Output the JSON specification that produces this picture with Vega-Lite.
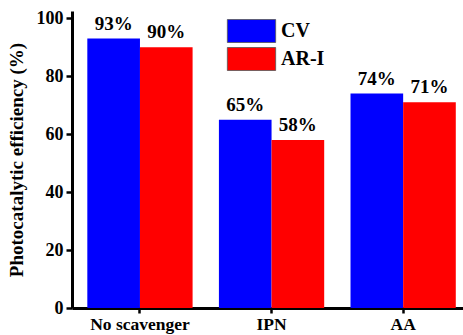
{
  "$schema": "https://vega.github.io/schema/vega-lite/v6.json",
  "width": 391,
  "height": 297,
  "autosize": {"type": "none"},
  "padding": {"left": 72, "top": 11, "right": 0, "bottom": 27},
  "background": "white",
  "config": {
    "view": {"stroke": null},
    "font": "Liberation Serif",
    "axis": {"grid": false}
  },
  "data": {
    "values": [
      {"scavenger": "No scavenger", "sample": "CV", "value": 93, "label": "93%"},
      {"scavenger": "No scavenger", "sample": "AR-I", "value": 90, "label": "90%"},
      {"scavenger": "IPN", "sample": "CV", "value": 65, "label": "65%"},
      {"scavenger": "IPN", "sample": "AR-I", "value": 58, "label": "58%"},
      {"scavenger": "AA", "sample": "CV", "value": 74, "label": "74%"},
      {"scavenger": "AA", "sample": "AR-I", "value": 71, "label": "71%"}
    ]
  },
  "encoding": {
    "x": {
      "field": "scavenger", "type": "nominal", "sort": ["No scavenger", "IPN", "AA"],
      "scale": {"paddingInner": 0.2, "paddingOuter": 0.0856, "align": 0.68},
      "axis": {"title": null, "labelAngle": 0, "labelFont": "Liberation Serif", "labelFontWeight": "bold", "labelColor": "black", "labelFontSize": 17.5, "labelPadding": 2, "domainColor": "black", "domainWidth": 3, "tickColor": "black", "tickWidth": 2.5, "tickSize": 5}
    },
    "xOffset": {"field": "sample", "type": "nominal", "sort": ["CV", "AR-I"], "scale": {"paddingInner": 0, "paddingOuter": 0}},
    "y": {
      "field": "value", "type": "quantitative",
      "scale": {"domain": [0, 102.5], "nice": false},
      "axis": {"title": "Photocatalytic efficiency (%)", "values": [0, 20, 40, 60, 80, 100], "labelFont": "Liberation Serif", "titleFont": "Liberation Serif", "labelFontWeight": "bold", "titleFontWeight": "bold", "labelColor": "black", "titleColor": "black", "labelFontSize": 18, "titleFontSize": 19, "labelPadding": 3, "titlePadding": 10, "domainColor": "black", "domainWidth": 3, "tickColor": "black", "tickWidth": 2.5, "tickSize": 6}
    }
  },
  "layer": [
    {
      "mark": {"type": "bar", "opacity": 1},
      "encoding": {
        "color": {
          "field": "sample", "type": "nominal",
          "scale": {"domain": ["CV", "AR-I"], "range": ["#0000FF", "#FF0000"]},
          "legend": {
            "title": null, "orient": "none", "legendX": 167.5, "legendY": 8, "padding": 0,
            "symbolType": "M-2.1,-1H2.1V1H-2.1Z", "symbolSize": 529, "symbolStrokeColor": "#555555", "symbolStrokeWidth": 0.8, "symbolOpacity": 1,
            "labelFont": "Liberation Serif", "labelFontWeight": "bold", "labelFontSize": 20, "labelColor": "black", "labelOffset": 17.5, "rowPadding": 0
          }
        }
      }
    },
    {
      "mark": {"type": "text", "font": "Liberation Serif", "fontWeight": "bold", "fontSize": 19, "baseline": "alphabetic", "dy": -9, "color": "black"},
      "encoding": {"text": {"field": "label"}}
    }
  ]
}
